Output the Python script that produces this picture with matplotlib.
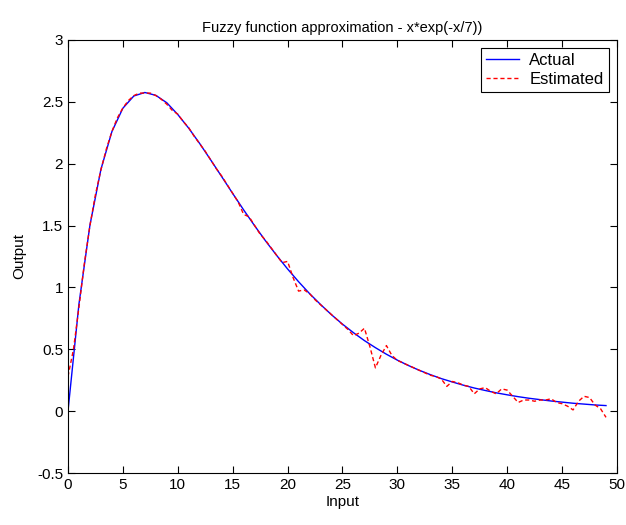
import numpy as np
import matplotlib
matplotlib.use('Agg')
from matplotlib import pyplot as plt

plt.rcParams['font.family'] = ['Liberation Sans', 'DejaVu Sans']

# actual curve, sampled at whole inputs 0..49
x_act = list(range(0, 50))
y_act = [0.000, 0.867, 1.503, 1.954, 2.259, 2.448, 2.547, 2.575, 2.552, 2.492,
         2.397, 2.286, 2.162, 2.030, 1.895, 1.759, 1.626, 1.498, 1.375, 1.259,
         1.149, 1.046, 0.950, 0.862, 0.779, 0.703, 0.634, 0.570, 0.513, 0.460,
         0.412, 0.369, 0.330, 0.295, 0.263, 0.236, 0.210, 0.187, 0.167, 0.148,
         0.132, 0.117, 0.104, 0.093, 0.082, 0.073, 0.064, 0.057, 0.050, 0.045]

# estimated curve, read at half steps 0..49
x_est = [i * 0.5 for i in range(0, 99)]
y_est = [0.28, 0.50, 0.84, 1.20, 1.50, 1.75, 1.95, 2.12, 2.26, 2.37,
         2.45, 2.51, 2.55, 2.57, 2.57, 2.57, 2.55, 2.52, 2.48, 2.43,
         2.40, 2.34, 2.29, 2.22, 2.16, 2.10, 2.03, 1.96, 1.90, 1.83,
         1.76, 1.69, 1.59, 1.57, 1.50, 1.43, 1.38, 1.32, 1.26, 1.20,
         1.21, 1.08, 0.97, 0.98, 0.95, 0.90, 0.86, 0.82, 0.78, 0.74,
         0.70, 0.66, 0.61, 0.63, 0.67, 0.52, 0.35, 0.45, 0.53, 0.45,
         0.41, 0.39, 0.37, 0.35, 0.33, 0.31, 0.29, 0.28, 0.26, 0.20,
         0.24, 0.23, 0.21, 0.20, 0.14, 0.18, 0.19, 0.16, 0.14, 0.18,
         0.17, 0.12, 0.07, 0.09, 0.09, 0.08, 0.09, 0.09, 0.10, 0.07,
         0.06, 0.04, 0.01, 0.08, 0.12, 0.11, 0.05, 0.02, -0.05]

xticks = [0, 5, 10, 15, 20, 25, 30, 35, 40, 45, 50]
yticks = [-0.5, 0, 0.5, 1, 1.5, 2, 2.5, 3]

fig = plt.figure(figsize=(6.26, 5.25), dpi=100)
ax = fig.add_axes([0.1086, 0.099, 0.877, 0.825])

ax.plot(x_act, y_act, color='blue', lw=1.0, label='Actual')
ax.plot(x_est, y_est, color='red', lw=1.0, dashes=(3, 2), label='Estimated')

ax.set_xlim(0, 50)
ax.set_ylim(-0.5, 3)
ax.set_xticks(xticks)
ax.set_yticks(yticks)
ax.set_xticklabels([str(t) for t in xticks])
ax.set_yticklabels(['-0.5', '0', '0.5', '1', '1.5', '2', '2.5', '3'])
ax.tick_params(direction='in', top=True, right=True, length=5, labelsize=11)

ax.set_title('Fuzzy function approximation - x*exp(-x/7))', fontsize=10.5)
ax.set_xlabel('Input', fontsize=11, labelpad=2)
ax.set_ylabel('Output', fontsize=11, labelpad=8)

leg = ax.legend(loc='upper right', fancybox=False, edgecolor='black',
                framealpha=1, fontsize=12, borderaxespad=0.5,
                handlelength=2.0, handletextpad=0.6, borderpad=0.3,
                labelspacing=0.2)
leg.get_frame().set_linewidth(0.8)

plt.savefig('out.png', dpi=100)
